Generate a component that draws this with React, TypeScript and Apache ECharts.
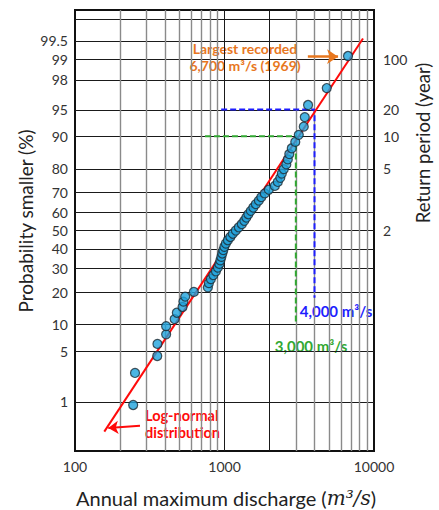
import React, { useEffect, useRef } from 'react';
import * as echarts from 'echarts';

// Annual maximum discharge (m3/s), sorted ascending
const discharge = [
  245, 252, 355, 356, 407, 407, 464, 480, 524, 531,
  546, 624, 774, 786, 811, 842, 876, 903, 924, 938,
  953, 967, 982, 998, 1021, 1053, 1094, 1137, 1191, 1247,
  1306, 1357, 1400, 1444, 1500, 1559, 1620, 1697, 1763, 1860,
  1979, 2171, 2273, 2362, 2417, 2493, 2591, 2651, 2713, 2819,
  2975, 3140, 3390, 3443, 3622, 4830, 6700,
];
// Plotting position (probability smaller, %) of each point
const probability = [
  0.88, 2.63, 4.39, 6.14, 7.89, 9.65, 11.4, 13.16, 14.91, 16.67,
  18.42, 20.18, 21.93, 23.68, 25.44, 27.19, 28.95, 30.7, 32.46, 34.21,
  35.96, 37.72, 39.47, 41.23, 42.98, 44.74, 46.49, 48.25, 50.0, 51.75,
  53.51, 55.26, 57.02, 58.77, 60.53, 62.28, 64.04, 65.79, 67.54, 69.3,
  71.05, 72.81, 74.56, 76.32, 78.07, 79.82, 81.58, 83.33, 85.09, 86.84,
  88.6, 90.35, 92.11, 93.86, 95.61, 97.37, 99.12,
];

// Log-normal fit line end points
const fitDischarge = [157, 8440];
const fitProbability = [0.31, 99.55];

// Axis ticks / grid lines
const xTicks = [100, 1000, 10000];
const probabilityTicks = [1, 5, 10, 20, 30, 40, 50, 60, 70, 80, 90, 95, 98, 99, 99.5];
const unlabeledProbabilityLines = [99.8];
const returnPeriods = [2, 5, 10, 20, 100];
const minorDischargeLines = [200, 300, 400, 500, 600, 700, 800, 900, 3000, 4000, 5000, 6000, 7000, 8000, 9000];
const majorDischargeLines = [1000, 2000];

// Design-flood guide lines
const greenDischarge = [740, 3000, 3000];
const greenProbability = [90, 90, 10];
const blueDischarge = [950, 4000, 4000];
const blueProbability = [95, 95, 18];

// Arrows
const orangeArrowDischarge = [3610, 5750];
const orangeArrowProbability = [99.1, 99.1];
const redArrowDischarge = [272, 167];
const redArrowProbability = [0.395, 0.36];

function probit(p: number): number {
  const a = [-3.969683028665376e1, 2.209460984245205e2, -2.759285104469687e2, 1.38357751867269e2, -3.066479806614716e1, 2.506628277459239];
  const b = [-5.447609879822406e1, 1.615858368580409e2, -1.556989798598866e2, 6.680131188771972e1, -1.328068155092025e1];
  const c = [-7.784894002430293e-3, -3.223964580411365e-1, -2.400758277161838, -2.549671750376424, 4.374664141464968, 2.938163982698783];
  const d = [7.784695709041462e-3, 3.224671290700398e-1, 2.445134137142996, 3.754408661907416];
  const plow = 0.02425;
  const phigh = 1 - plow;
  let q: number, r: number;
  if (p < plow) {
    q = Math.sqrt(-2 * Math.log(p));
    return (((((c[0] * q + c[1]) * q + c[2]) * q + c[3]) * q + c[4]) * q + c[5]) / ((((d[0] * q + d[1]) * q + d[2]) * q + d[3]) * q + 1);
  }
  if (p <= phigh) {
    q = p - 0.5;
    r = q * q;
    return ((((((a[0] * r + a[1]) * r + a[2]) * r + a[3]) * r + a[4]) * r + a[5]) * q) / (((((b[0] * r + b[1]) * r + b[2]) * r + b[3]) * r + b[4]) * r + 1);
  }
  q = Math.sqrt(-2 * Math.log(1 - p));
  return -(((((c[0] * q + c[1]) * q + c[2]) * q + c[3]) * q + c[4]) * q + c[5]) / ((((d[0] * q + d[1]) * q + d[2]) * q + d[3]) * q + 1);
}
const Z = (pct: number) => probit(pct / 100);

const FONT = 'Lato';
const ORANGE = '#e8771e';
const BLUE = '#1e1eff';
const GREEN = '#32a832';
const RED = '#ff0a0a';

export default function App() {
  const ref = useRef<HTMLDivElement>(null);
  useEffect(() => {
    if (!ref.current) return;
    const chart = echarts.init(ref.current, undefined, { renderer: 'svg' });

    const gridLineData: any[] = [];
    probabilityTicks.forEach((p) => {
      gridLineData.push({
        yAxis: Z(p),
        lineStyle: { color: '#1a1a1a', width: 1, type: 'solid' },
        label: { show: true, position: 'start', distance: 7, formatter: String(p), fontSize: 14, fontFamily: FONT, color: '#333' },
      });
    });
    unlabeledProbabilityLines.forEach((p) => {
      gridLineData.push({ yAxis: Z(p), lineStyle: { color: '#1a1a1a', width: 1, type: 'solid' }, label: { show: false } });
    });
    returnPeriods.forEach((t) => {
      gridLineData.push({
        yAxis: Z(100 * (1 - 1 / t)),
        lineStyle: { color: 'rgba(0,0,0,0)', width: 1, type: 'solid' },
        label: { show: true, position: 'end', distance: 9, formatter: String(t), fontSize: 14, fontFamily: FONT, color: '#333' },
      });
    });
    minorDischargeLines.forEach((q) => {
      gridLineData.push({ xAxis: q, lineStyle: { color: '#8a8a8a', width: 1.4, type: 'solid' }, label: { show: false } });
    });
    majorDischargeLines.forEach((q) => {
      gridLineData.push({ xAxis: q, lineStyle: { color: '#1a1a1a', width: 1, type: 'solid' }, label: { show: false } });
    });

    const option: any = {
      animation: false,
      grid: {
        left: 75, top: 10, width: 299, height: 441,
        show: true, borderColor: '#111', borderWidth: 2, backgroundColor: 'transparent',
        containLabel: false, outerBoundsMode: 'none',
      },
      xAxis: {
        type: 'log', logBase: 10, min: 100, max: 10000,
        axisLine: { show: false }, axisTick: { show: false }, splitLine: { show: false },
        axisLabel: {
          fontSize: 14, fontFamily: FONT, color: '#333', margin: 8,
          formatter: (v: number) => (xTicks.includes(Math.round(v)) ? String(Math.round(v)) : ''),
        },
      },
      yAxis: {
        type: 'value', min: -3, max: 3,
        axisLine: { show: false }, axisTick: { show: false }, splitLine: { show: false }, axisLabel: { show: false },
      },
      graphic: [
        {
          type: 'text', x: 25, y: 221, rotation: Math.PI / 2,
          style: { text: 'Probability smaller (%)', fontSize: 19, fontFamily: FONT, fill: '#222', align: 'center', verticalAlign: 'middle' },
        },
        {
          type: 'text', x: 423, y: 143, rotation: Math.PI / 2,
          style: { text: 'Return period (year)', fontSize: 18.5, fontFamily: FONT, fill: '#222', align: 'center', verticalAlign: 'middle' },
        },
        {
          type: 'text', x: 226, y: 498,
          style: {
            text: 'Annual maximum discharge ({it|m³/s})',
            fontSize: 20, fontFamily: FONT, fill: '#222', align: 'center', verticalAlign: 'middle',
            rich: { it: { fontSize: 20, fontFamily: 'DejaVu Serif', fontStyle: 'italic', fill: '#222' } },
          },
        },
        {
          type: 'text', x: 245, y: 57,
          style: { text: 'Largest recorded\n6,700 m³/s (1969)', lineHeight: 16.5, fontSize: 14, fontWeight: 'bold', fontFamily: FONT, fill: ORANGE, align: 'center', verticalAlign: 'middle' },
        },
        {
          type: 'text', x: 336, y: 311,
          style: { text: '4,000 m³/s', fontSize: 15, fontWeight: 'bold', fontFamily: FONT, fill: BLUE, align: 'center', verticalAlign: 'middle' },
        },
        {
          type: 'text', x: 311, y: 346,
          style: { text: '3,000 m³/s', fontSize: 15, fontWeight: 'bold', fontFamily: FONT, fill: GREEN, align: 'center', verticalAlign: 'middle' },
        },
        {
          type: 'text', x: 145, y: 424,
          style: { text: 'Log-normal\ndistribution', lineHeight: 16.5, fontSize: 14.5, fontWeight: 'bold', fontFamily: FONT, fill: RED, align: 'left', verticalAlign: 'middle' },
        },
      ],
      series: [
        {
          name: 'grid', type: 'line', data: [], silent: true, z: 1,
          markLine: { silent: true, z: 1, symbol: ['none', 'none'], animation: false, data: gridLineData },
        },
        {
          name: 'green', type: 'line', silent: true, z: 2, symbol: 'none',
          data: greenDischarge.map((q, i) => [q, Z(greenProbability[i])]),
          lineStyle: { color: GREEN, width: 2, type: [6, 3] },
        },
        {
          name: 'blue', type: 'line', silent: true, z: 2, symbol: 'none',
          data: blueDischarge.map((q, i) => [q, Z(blueProbability[i])]),
          lineStyle: { color: BLUE, width: 2, type: [6, 3] },
        },
        {
          name: 'fit', type: 'line', silent: true, z: 3, symbol: 'none',
          data: fitDischarge.map((q, i) => [q, Z(fitProbability[i])]),
          lineStyle: { color: RED, width: 2 },
        },
        {
          name: 'observed', type: 'scatter', z: 4,
          data: discharge.map((q, i) => [q, Z(probability[i])]),
          symbol: 'circle', symbolSize: 9,
          itemStyle: { color: '#1ea2dc', borderColor: '#1b2a33', borderWidth: 1.2 },
        },
        {
          name: 'orangeArrow', type: 'line', data: [], silent: true, z: 5,
          markLine: {
            silent: true, z: 5, symbol: ['none', 'arrow'], symbolSize: 11, animation: false,
            label: { show: false },
            itemStyle: { color: ORANGE },
            lineStyle: { color: ORANGE, width: 2.5, type: 'solid' },
            data: [[
              { coord: [orangeArrowDischarge[0], Z(orangeArrowProbability[0])] },
              { coord: [orangeArrowDischarge[1], Z(orangeArrowProbability[1])] },
            ]],
          },
        },
        {
          name: 'redArrow', type: 'line', data: [], silent: true, z: 5,
          markLine: {
            silent: true, z: 5, symbol: ['none', 'arrow'], symbolSize: 10, animation: false,
            label: { show: false },
            itemStyle: { color: RED },
            lineStyle: { color: RED, width: 2, type: 'solid' },
            data: [[
              { coord: [redArrowDischarge[0], Z(redArrowProbability[0])] },
              { coord: [redArrowDischarge[1], Z(redArrowProbability[1])] },
            ]],
          },
        },
      ],
    };
    chart.setOption(option);
    return () => chart.dispose();
  }, []);
  return <div ref={ref} style={{ position: 'fixed', left: 0, top: 0, width: 439, height: 510, background: '#fff' }} />;
}
